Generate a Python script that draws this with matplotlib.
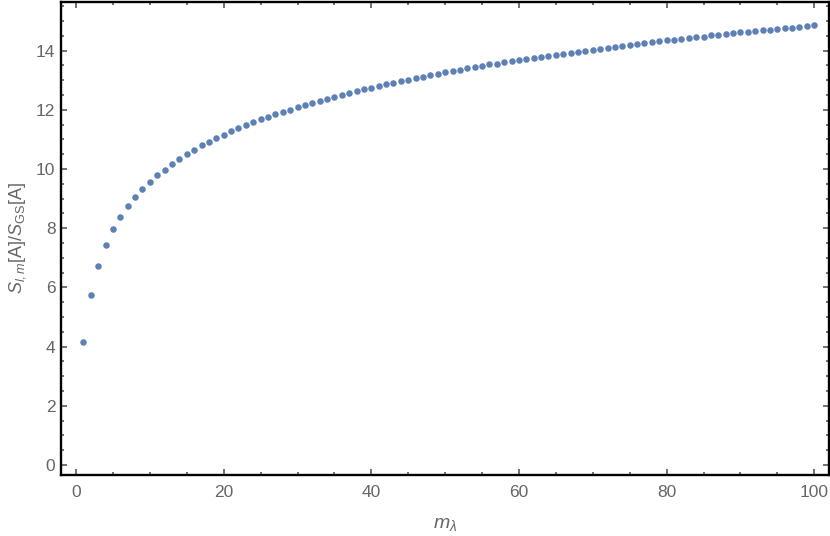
import matplotlib
matplotlib.use("Agg")
import matplotlib.pyplot as plt
from matplotlib.ticker import MultipleLocator

plt.rcParams['font.family'] = ['Liberation Sans', 'DejaVu Sans']
plt.rcParams['mathtext.fontset'] = 'custom'
plt.rcParams['mathtext.rm'] = 'Liberation Sans'
plt.rcParams['mathtext.it'] = 'Liberation Sans:italic'
plt.rcParams['mathtext.bf'] = 'Liberation Sans:bold'

m_values = list(range(1, 101))
ratio = [
    4.16, 5.73, 6.73, 7.42, 7.96, 8.38, 8.74, 9.06, 9.32, 9.56,
    9.78, 9.98, 10.17, 10.34, 10.51, 10.65, 10.80, 10.92, 11.05, 11.16,
    11.28, 11.39, 11.49, 11.59, 11.68, 11.77, 11.86, 11.94, 12.00, 12.08,
    12.16, 12.24, 12.31, 12.37, 12.44, 12.51, 12.57, 12.63, 12.69, 12.74,
    12.80, 12.86, 12.91, 12.97, 13.01, 13.06, 13.11, 13.17, 13.22, 13.26,
    13.31, 13.35, 13.40, 13.44, 13.49, 13.53, 13.56, 13.61, 13.64, 13.69,
    13.72, 13.76, 13.79, 13.82, 13.86, 13.89, 13.92, 13.96, 13.99, 14.01,
    14.05, 14.08, 14.12, 14.16, 14.20, 14.23, 14.25, 14.28, 14.32, 14.34,
    14.36, 14.40, 14.42, 14.45, 14.47, 14.51, 14.53, 14.56, 14.58, 14.61,
    14.63, 14.66, 14.69, 14.71, 14.73, 14.75, 14.77, 14.80, 14.82, 14.86,
]
x_label = r'$m_{\lambda}$'
y_label = r'$S_{l,m}[\mathrm{A}]/S_{\mathrm{GS}}[\mathrm{A}]$'

fig = plt.figure(figsize=(8.3, 5.36), dpi=100)
ax = fig.add_axes([61/830, 61/536, (829-61)/830, (534-61)/536])
ax.plot(m_values, ratio, 'o', color='#5e81b5', markersize=4.7, markeredgewidth=0)

ax.set_xlim(-2.04, 102.0)
ax.set_ylim(-0.34, 15.64)
ax.xaxis.set_major_locator(MultipleLocator(20))
ax.xaxis.set_minor_locator(MultipleLocator(5))
ax.yaxis.set_major_locator(MultipleLocator(2))
ax.yaxis.set_minor_locator(MultipleLocator(0.5))

for s in ax.spines.values():
    s.set_linewidth(1.7)
    s.set_color('black')

ax.tick_params(which='both', direction='in', top=True, right=True,
               color='#666666', labelcolor='#666666', labelsize=12.5)
ax.tick_params(which='major', length=4.5, width=1.3)
ax.tick_params(which='minor', length=2.5, width=1.3)
ax.tick_params(axis='x', which='major', pad=7)
ax.tick_params(axis='y', which='major', pad=4)

ax.set_xlabel(x_label, fontsize=14, color='#666666', labelpad=12)
ax.set_ylabel(y_label, fontsize=13, color='#666666', labelpad=6)

fig.savefig('out.png', dpi=100)
